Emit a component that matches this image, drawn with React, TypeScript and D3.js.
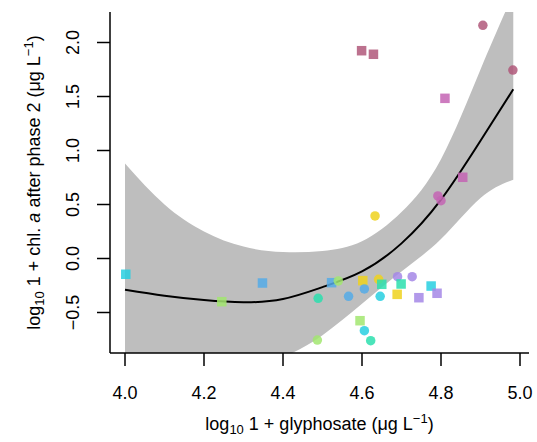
import React from "react";
import * as d3 from "d3";

const fitX = [4.0, 4.1, 4.2, 4.3, 4.4, 4.5, 4.6, 4.7, 4.8, 4.9, 4.983];
const fitY = [-0.29, -0.345, -0.385, -0.405, -0.375, -0.265, -0.12, 0.14, 0.545, 1.09, 1.567];
const upperY = [0.88, 0.5, 0.25, 0.11, 0.06, 0.07, 0.16, 0.43, 0.92, 1.75, 2.45];
const lowerY = [-1.45, -1.25, -1.1, -1.0, -0.91, -0.71, -0.42, -0.12, 0.18, 0.56, 0.73];

const ptX = [4.002, 4.348, 4.245, 4.523, 4.54, 4.602, 4.642, 4.65, 4.69, 4.727, 4.699, 4.775, 4.79, 4.744, 4.689, 4.646, 4.606, 4.566, 4.489, 4.595, 4.606, 4.622, 4.487, 4.906, 4.982, 4.81, 4.855, 4.792, 4.599, 4.629, 4.633, 4.8];
const ptY = [-0.146, -0.227, -0.40, -0.224, -0.208, -0.205, -0.193, -0.239, -0.168, -0.168, -0.236, -0.255, -0.322, -0.363, -0.332, -0.35, -0.282, -0.35, -0.369, -0.576, -0.668, -0.761, -0.755, 2.159, 1.745, 1.483, 0.752, 0.579, 1.924, 1.891, 0.394, 0.535];
const ptShape = ["s", "s", "s", "s", "c", "s", "c", "s", "c", "c", "s", "s", "s", "s", "s", "c", "c", "c", "c", "s", "c", "c", "c", "c", "c", "s", "s", "c", "s", "s", "c", "c"];
const ptGroup = ["cyan", "blue", "green", "blue", "green", "yellow", "yellow", "teal", "purple", "purple", "teal", "cyan", "purple", "purple", "yellow", "cyan", "blue", "blue", "teal", "green", "cyan", "teal", "green", "mauve", "mauve", "pink", "pink", "pink", "mauve", "mauve", "yellow", "pink"];

const groupColor: Record<string, string> = {
  mauve: "#b0587a",
  pink: "#c464b4",
  purple: "#a587e6",
  blue: "#55ace8",
  cyan: "#27cfe0",
  teal: "#2bdfae",
  green: "#a2e670",
  yellow: "#efd21f",
};

const xTicks = [4.0, 4.2, 4.4, 4.6, 4.8, 5.0];
const yTicks = [-0.5, 0.0, 0.5, 1.0, 1.5, 2.0];

export default function App() {
  const W = 537, H = 442;
  const L = 110, R = 529, T = 12, B = 353;
  const x = d3.scaleLinear().domain([4, 5]).range([125, 520]);
  const y = d3.scaleLinear().domain([-0.5, 2]).range([312.5, 42.5]);
  const font = "'Liberation Sans', Arial, Helvetica, sans-serif";

  const idx = fitX.map((_, i) => i);
  const area = d3.area<number>()
    .x((i) => x(fitX[i]))
    .y0((i) => y(lowerY[i]))
    .y1((i) => y(upperY[i]))
    .curve(d3.curveNatural);
  const line = d3.line<number>()
    .x((i) => x(fitX[i]))
    .y((i) => y(fitY[i]))
    .curve(d3.curveNatural);

  const s = 9.5;
  return (
    <svg width={W} height={H} style={{ position: "absolute", left: 0, top: 0, background: "#fff" }} fontFamily={font}>
      <defs>
        <clipPath id="plotclip">
          <rect x={L} y={T} width={R - L} height={B - T} />
        </clipPath>
      </defs>
      <g clipPath="url(#plotclip)">
        <path d={area(idx) || ""} fill="#bebebe" stroke="none" />
        <path d={line(idx) || ""} fill="none" stroke="#000" strokeWidth={2} />
        {ptX.map((px, i) => {
          const cx = x(px), cy = y(ptY[i]);
          const c = groupColor[ptGroup[i]];
          return ptShape[i] === "s" ? (
            <rect key={i} x={cx - s / 2} y={cy - s / 2} width={s} height={s} fill={c} fillOpacity={0.85} />
          ) : (
            <circle key={i} cx={cx} cy={cy} r={s / 2} fill={c} fillOpacity={0.85} />
          );
        })}
      </g>
      <line x1={L} y1={T} x2={L} y2={B} stroke="#000" strokeWidth={1.5} />
      <line x1={L} y1={B} x2={R} y2={B} stroke="#000" strokeWidth={1.5} />
      {xTicks.map((t) => (
        <g key={"x" + t}>
          <line x1={x(t)} x2={x(t)} y1={B} y2={B + 13} stroke="#000" strokeWidth={1.5} />
          <text x={x(t)} y={399} fontSize={18} textAnchor="middle">{t.toFixed(1)}</text>
        </g>
      ))}
      {yTicks.map((t) => (
        <g key={"y" + t}>
          <line x1={L - 13} x2={L} y1={y(t)} y2={y(t)} stroke="#000" strokeWidth={1.5} />
          <text transform={`translate(78.5,${y(t)}) rotate(-90)`} fontSize={18} textAnchor="middle">
            {t < 0 ? "\u2212" + Math.abs(t).toFixed(1) : t.toFixed(1)}
          </text>
        </g>
      ))}
      <text x={(L + R) / 2} y={430} fontSize={18} textAnchor="middle">
        log<tspan fontSize={13} dy={4}>10</tspan>
        <tspan dy={-4}> 1 + glyphosate (μg L</tspan>
        <tspan fontSize={13} dy={-7}>−1</tspan>
        <tspan dy={7}>)</tspan>
      </text>
      <text transform={`translate(40,${(T + B) / 2}) rotate(-90)`} fontSize={18} textAnchor="middle">
        log<tspan fontSize={13} dy={4}>10</tspan>
        <tspan dy={-4}> 1 + chl. </tspan>
        <tspan fontStyle="italic">a</tspan>
        <tspan> after phase 2 (μg L</tspan>
        <tspan fontSize={13} dy={-7}>−1</tspan>
        <tspan dy={7}>)</tspan>
      </text>
    </svg>
  );
}
